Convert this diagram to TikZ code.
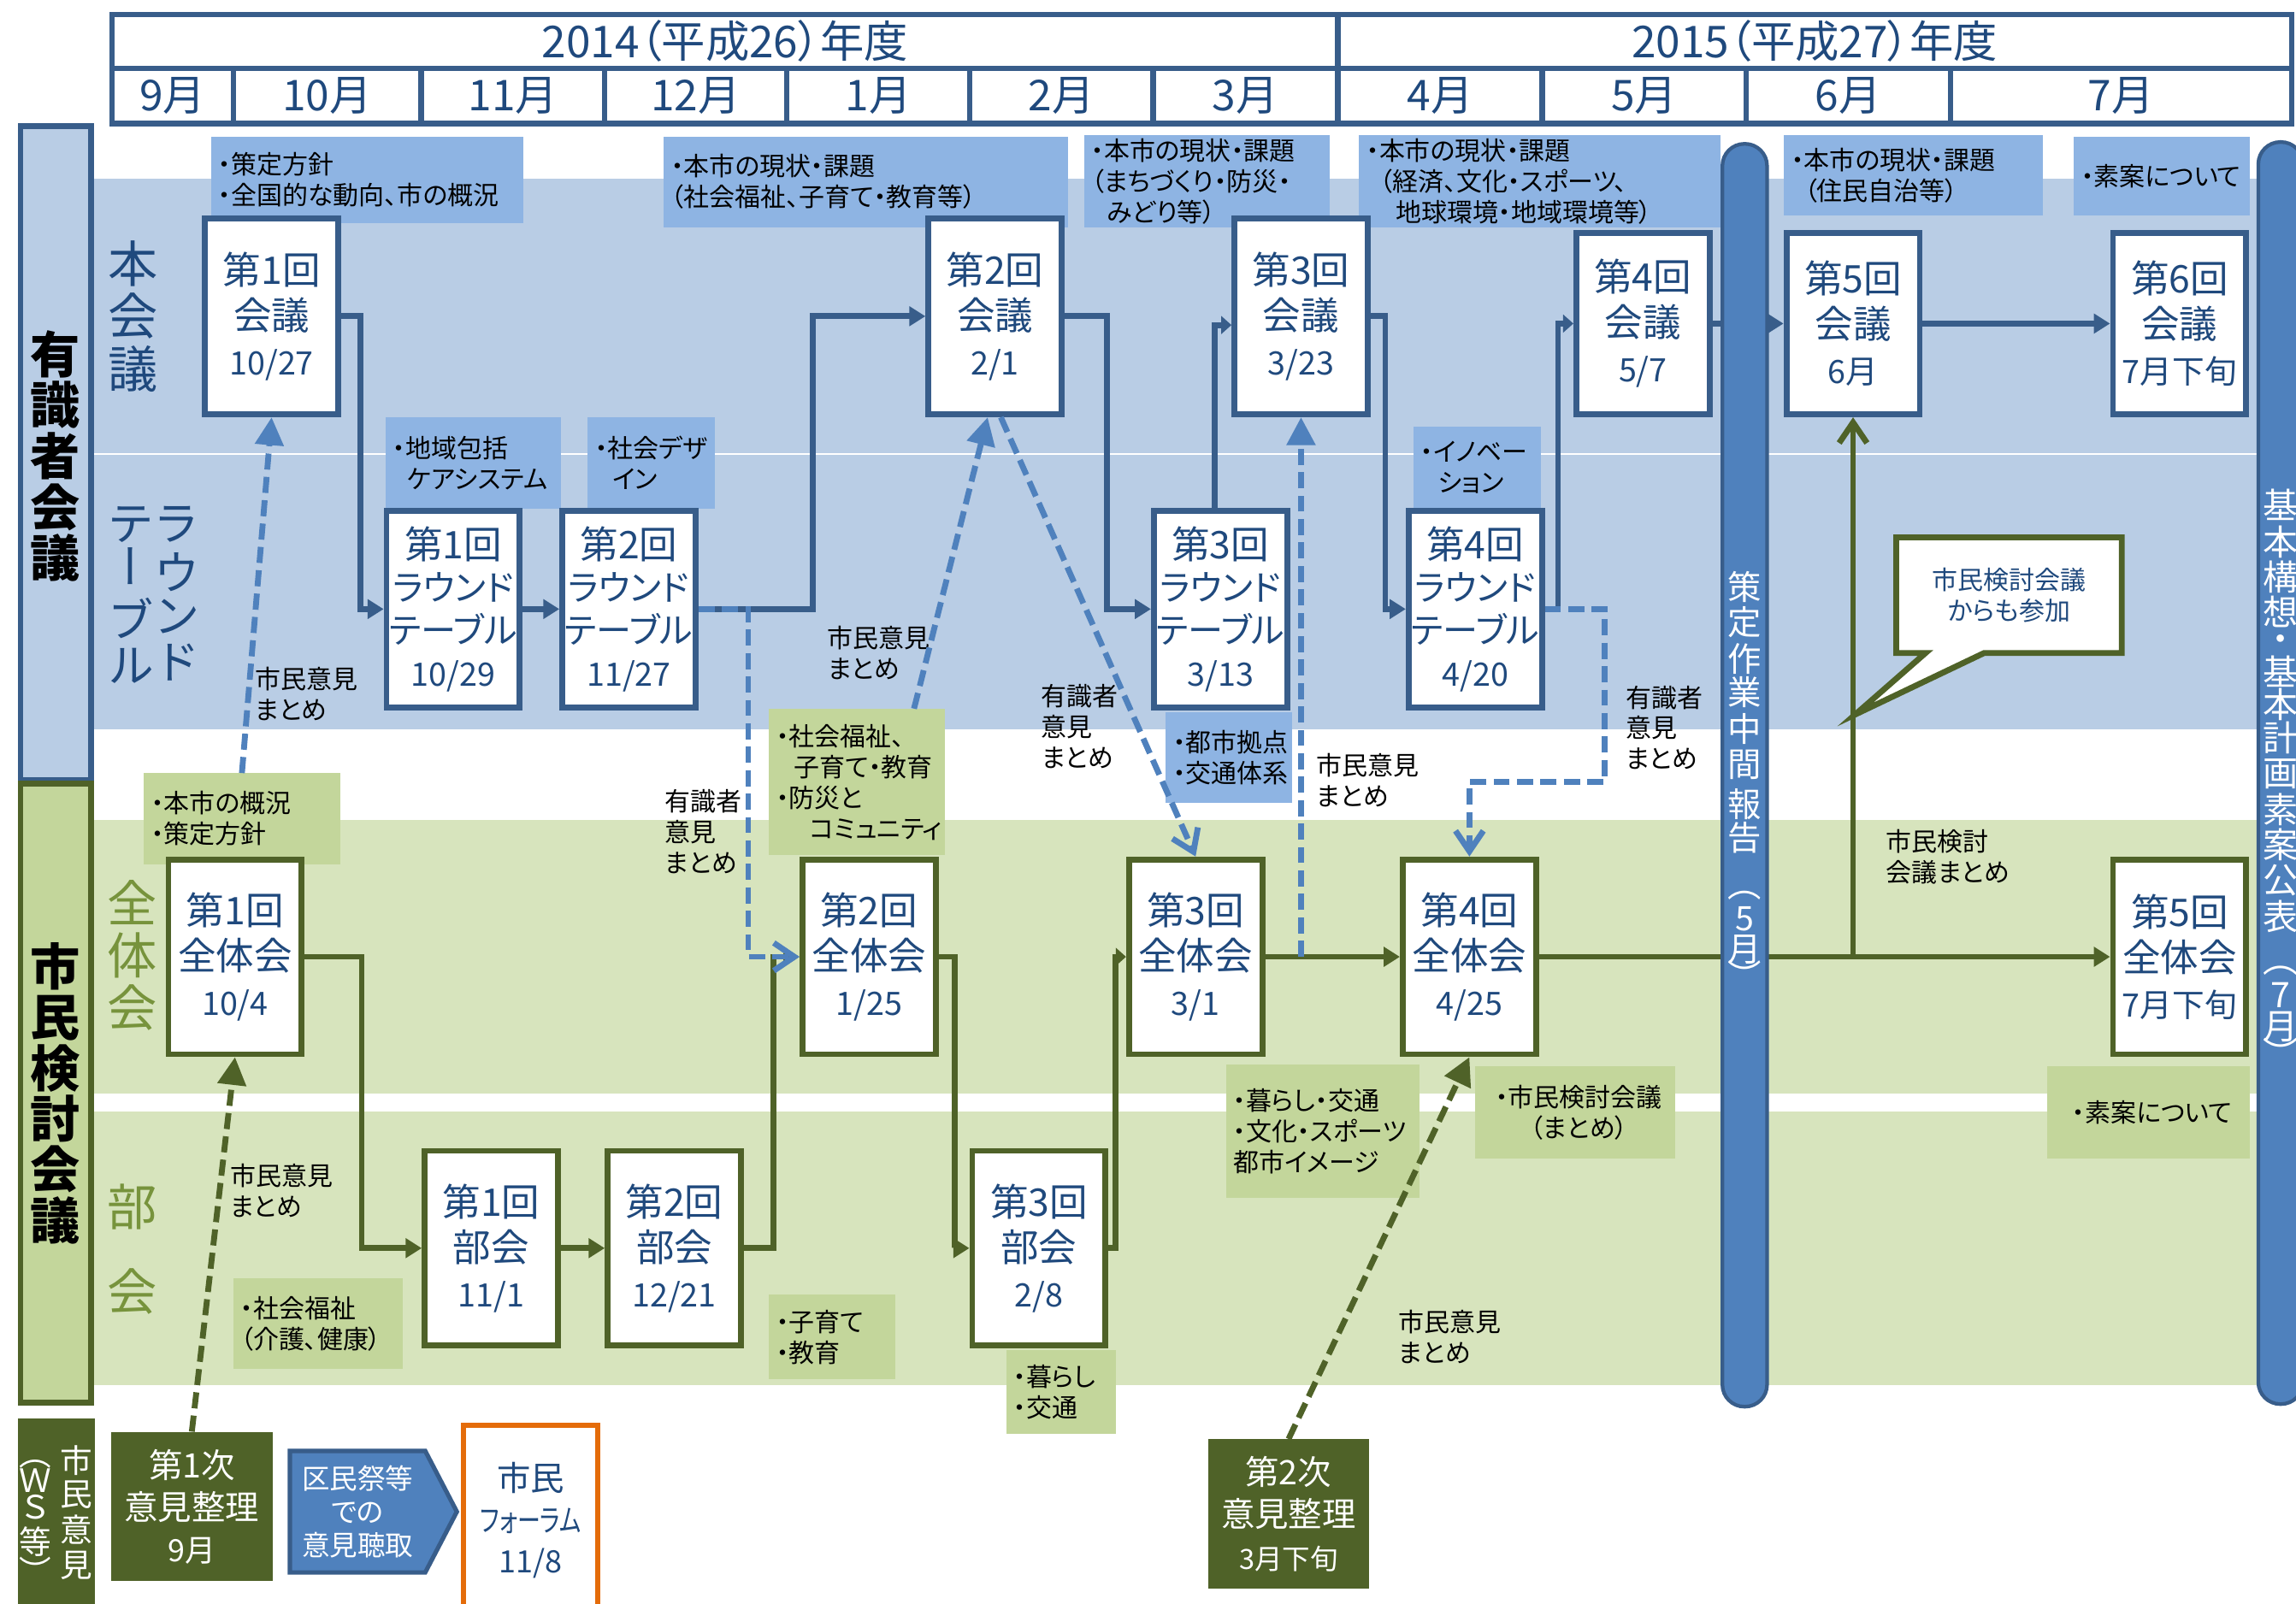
\documentclass[tikz,border=0pt]{standalone}
\usepackage{fontspec}
\usepackage{graphicx}
\newfontfamily\jp[RawFeature=+palt]{Noto Sans CJK JP}
\newfontfamily\jpv[RawFeature=+vert]{Noto Sans CJK JP}
\usepackage{xcolor}
\usetikzlibrary{positioning,arrows.meta,shapes.symbols,shapes.callouts}
\definecolor{hdblue}{RGB}{56,93,138}
\definecolor{txblue}{RGB}{31,73,125}
\definecolor{bandblue}{RGB}{185,205,229}
\definecolor{noteblue}{RGB}{142,180,227}
\definecolor{barblue}{RGB}{79,129,189}
\definecolor{olive}{RGB}{79,98,40}
\definecolor{bandgreen}{RGB}{215,228,189}
\definecolor{notegreen}{RGB}{195,214,155}
\definecolor{lblgreen}{RGB}{119,147,60}
\definecolor{forange}{RGB}{228,108,10}
\newcommand\mtgdate[1]{{\fontsize{22}{22}\selectfont #1}}
\newcommand\mtgno[1]{{\fontsize{26}{26}\selectfont #1}}
\pgfdeclarelayer{back}
\pgfdeclarelayer{front}
\pgfsetlayers{back,main,front}
\tikzset{
    yearcell/.style={draw=hdblue, line width=3.8pt, fill=white, minimum height=36.6pt, inner sep=0pt, text=txblue, font=\jp\fontsize{30}{30}\selectfont},
    monthcell/.style={yearcell, minimum height=37.8pt, font=\jp\fontsize{29}{29}\selectfont},
    sidecol/.style={line width=4pt, minimum width=48pt, inner sep=0pt},
    sidelabel/.style={inner sep=0pt, text height=29.9pt, text depth=4.1pt, font=\jpv\bfseries\fontsize{34}{34}\selectfont},
    rowlabel/.style={inner sep=0pt, text height=29.9pt, text depth=4.1pt, font=\jpv\fontsize{34}{34}\selectfont},
    rtlabel/.style={inner sep=0pt, text=txblue, text height=28.2pt, text depth=3.8pt, font=\jpv\fontsize{32}{32}\selectfont},
    oplabel/.style={inner sep=0pt, text=white, text height=19.4pt, text depth=2.6pt, font=\jpv\fontsize{22}{22}\selectfont},
    barlabel/.style={inner sep=0pt, text=white, text height=20.2pt, text depth=2.8pt, font=\jpv\fontsize{23}{23}\selectfont},
    finlabel/.style={inner sep=0pt, text=white, text height=21.1pt, text depth=2.9pt, font=\jpv\fontsize{24}{24}\selectfont},
    stagebar/.style={draw=hdblue, line width=2.5pt, fill=barblue, rounded corners=15pt, inner sep=0pt},
    meetbox/.style={draw, line width=4pt, fill=white, minimum width=91pt, minimum height=134pt, inner sep=0pt, align=center, text=txblue, font=\jp\fontsize{26}{31}\selectfont},
    expertbox/.style={meetbox, draw=hdblue},
    roundbox/.style={expertbox, font=\jp\fontsize{24}{29}\selectfont},
    citizenbox/.style={meetbox, draw=olive, minimum height=133pt},
    reviewbox/.style={fill=olive, minimum width=110pt, minimum height=102pt, inner sep=0pt, align=center, text=white, font=\jp\fontsize{23}{28.5}\selectfont},
    forumbox/.style={draw=forange, line width=3.5pt, fill=white, minimum width=91.5pt, minimum height=130pt, inner sep=0pt, align=center, text=txblue, font=\jp\fontsize{23}{28}\selectfont},
    hearbox/.style={signal, signal to=east, signal pointer angle=125, draw=hdblue, line width=3pt, fill=barblue, minimum width=114pt, minimum height=83pt, inner sep=0pt, align=center, text=white, font=\jp\fontsize{19}{23}\selectfont},
    bluenote/.style={anchor=north west, fill=noteblue, inner xsep=5pt, inner ysep=0pt, align=left, text=black, font=\jp\fontsize{17.5}{21}\selectfont},
    greennote/.style={bluenote, fill=notegreen},
    notelabel/.style={anchor=west, inner sep=0pt, align=left, text=black, font=\jp\fontsize{17.5}{21}\selectfont},
    calloutbox/.style={rectangle callout, draw=olive, line width=4pt, fill=white, minimum width=154pt, minimum height=79pt, callout pointer width=40pt, align=center, text=txblue, font=\jp\fontsize{17.5}{21}\selectfont},
    blueflow/.style={draw=hdblue, line width=4pt, -{Triangle[length=11pt,width=13pt]}},
    greenflow/.style={draw=olive, line width=4pt, -{Triangle[length=11pt,width=13pt]}},
    shorttip/.style={-{Triangle[length=7pt,width=12pt]}},
    bluedash/.style={draw=barblue, line width=4pt, dash pattern=on 11pt off 5pt},
    greendash/.style={draw=olive, line width=4pt, dash pattern=on 11pt off 5pt},
    bigtip/.style={-{Triangle[length=19pt,width=19pt]}},
    opentip/.style={-{Straight Barb[length=14pt,width=19pt]}}
}
\begin{document}
\begin{tikzpicture}[x=1pt, y=-1pt]
    \useasboundingbox (0,0) rectangle (1568,1095);
    \begin{pgfonlayer}{back}
        \fill[white] (0,0) rectangle (1568,1095);
        \fill[bandblue] (64,122) rectangle (1568,498);
        \draw[white, line width=1pt] (64,310) -- (1568,310);
        \fill[bandgreen] (64,560) rectangle (1568,946);
        \fill[white] (64,747) rectangle (1568,759);

        \node[bluenote, text width=203pt, minimum height=59pt] (nplan) at (144,93) {・策定方針\\・全国的な動向、市の概況};
        \node[bluenote, text width=266pt, minimum height=62pt] (nwelfare) at (453,93) {・本市の現状・課題\\（社会福祉、子育て・教育等）};
        \node[bluenote, text width=158pt, minimum height=63pt] (ntown) at (740,92) {・本市の現状・課題\\（まちづくり・防災・\\\hspace*{11pt}みどり等）};
        \node[bluenote, text width=237pt, minimum height=63pt] (neconomy) at (928,92) {・本市の現状・課題\\\hspace*{9pt}（経済、文化・スポーツ、\\\hspace*{20pt}地球環境・地域環境等）};
        \node[bluenote, text width=167pt, minimum height=55pt] (nself) at (1218,92) {・本市の現状・課題\\\hspace*{9pt}（住民自治等）};
        \node[bluenote, text width=110pt, minimum height=54pt] (ndraft) at (1416,93) {・素案について};
        \node[bluenote, text width=110pt, minimum height=62pt] (ncare) at (263,285) {・地域包括\\\hspace*{10pt}ケアシステム};
        \node[bluenote, text width=77pt, minimum height=62pt] (ndesign) at (401,285) {・社会デザ\\\hspace*{12pt}イン};
        \node[bluenote, text width=77pt, minimum height=56pt] (ninnov) at (965,291) {・イノベー\\\hspace*{12pt}ション};
        \node[bluenote, text width=76pt, minimum height=62pt] (ncity) at (796,486) {・都市拠点\\・交通体系};

        \node[greennote, text width=124pt, minimum height=62pt] (notek) at (98,528) {・本市の概況\\・策定方針};
        \node[greennote, text width=110pt, minimum height=100pt] (notel) at (525,484) {・社会福祉、\\\hspace*{12pt}子育て・教育\\・防災と\\\hspace*{23pt}コミュニティ};
        \node[greennote, text width=106pt, minimum height=62pt] (ngcare) at (159,873) {・社会福祉\\（介護、健康）};
        \node[greennote, text width=76pt, minimum height=58pt] (ngchild) at (525,884) {・子育て\\・教育};
        \node[greennote, text width=65pt, minimum height=57pt] (nglife) at (687,922) {・暮らし\\・交通};
        \node[greennote, text width=122pt, minimum height=91pt] (ngimage) at (837,727) {・暮らし・交通\\・文化・スポーツ\\都市イメージ};
        \node[greennote, text width=127pt, minimum height=63pt] (ngsum) at (1007,728) {\hspace*{9pt}・市民検討会議\\\hspace*{33pt}（まとめ）};
        \node[greennote, text width=128pt, minimum height=63pt] (ngdraft) at (1398,728) {\hspace*{12pt}・素案について};
    \end{pgfonlayer}

    \node[yearcell, minimum width=837.1pt] (y2014) at (495.15,28.3) {2014（平成26）年度};
    \node[yearcell, minimum width=651.3pt] (y2015) at (1239.35,28.3) {2015（平成27）年度};
    \foreach \xa/\xb/\mon [count=\i] in {76.6/159.3/9,159.3/287.6/10,287.6/413/11,413/537.4/12,537.4/662.3/1,662.3/787.4/2,787.4/913.7/3,913.7/1053.3/4,1053.3/1192.6/5,1192.6/1332/6,1332/1565/7}
        \node[monthcell, minimum width={(\xb-\xa)*1pt}] (mon\i) at ({(\xa+\xb)/2},65.5) {{\mon}月};

    \node[sidecol, draw=hdblue, fill=bandblue, minimum height=447pt] (colexpert) at (38,309.5) {};
    \node[sidecol, draw=olive, fill=notegreen, minimum height=423pt] (colcitizen) at (38,746.5) {};
    \node[fill=olive, minimum width=53pt, minimum height=127pt, inner sep=0pt] (colopinion) at (38.5,1032.5) {};
    \foreach \c [count=\i] in {有,識,者,会,議}
        \node[sidelabel] (explbl\i) at (38,{242+34.75*(\i-1)}) {\c};
    \foreach \c [count=\i] in {市,民,検,討,会,議}
        \node[sidelabel] (citlbl\i) at (38,{660+34.7*(\i-1)}) {\c};
    \foreach \c/\yy [count=\i] in {市/997.5,民/1020,意/1045,見/1069}
        \node[oplabel] (oplblA\i) at (52,\yy) {\c};
    \foreach \c/\yy [count=\i] in {（/992.6,Ｗ/1011,Ｓ/1029,等/1053,）/1073.4}
        \node[oplabel] (oplblB\i) at (24,\yy) {\c};

    \foreach \c [count=\i] in {本,会,議}
        \node[rowlabel, text=txblue] (honlbl\i) at (91,{180+36*(\i-1)}) {\c};
    \foreach \c/\yy [count=\i] in {ラ/357,ウ/391,ン/420,ド/452}
        \node[rtlabel] (rtlblA\i) at (121,\yy) {\c};
    \foreach \c/\yy [count=\i] in {テ/357,ー/387,ブ/423,ル/454}
        \node[rtlabel] (rtlblB\i) at (89,\yy) {\c};
    \foreach \c [count=\i] in {全,体,会}
        \node[rowlabel, text=lblgreen] (zenlbl\i) at (90,{617+35.5*(\i-1)}) {\c};
    \foreach \c/\yy [count=\i] in {部/824,会/882}
        \node[rowlabel, text=lblgreen] (bulbl\i) at (90,\yy) {\c};

    \node[expertbox] (M1) at (185.5,216) {第1回\\会議\\\mtgdate{10/27}};
    \node[expertbox] (M2) at (679.5,216) {第2回\\会議\\\mtgdate{2/1}};
    \node[expertbox] (M3) at (888.5,216) {第3回\\会議\\\mtgdate{3/23}};
    \node[expertbox, minimum height=124pt] (M4) at (1122,221) {第4回\\会議\\\mtgdate{5/7}};
    \node[expertbox, minimum height=124pt] (M5) at (1265.5,221) {第5回\\会議\\\mtgdate{6月}};
    \node[expertbox, minimum height=124pt] (M6) at (1488.5,221) {第6回\\会議\\\mtgdate{7月下旬}};

    \node[roundbox] (R1) at (309.5,416) {\mtgno{第1回}\\ラウンド\\テーブル\\\mtgdate{10/29}};
    \node[roundbox] (R2) at (429.5,416) {\mtgno{第2回}\\ラウンド\\テーブル\\\mtgdate{11/27}};
    \node[roundbox] (R3) at (833.5,416) {\mtgno{第3回}\\ラウンド\\テーブル\\\mtgdate{3/13}};
    \node[roundbox] (R4) at (1007.5,416) {\mtgno{第4回}\\ラウンド\\テーブル\\\mtgdate{4/20}};

    \node[citizenbox] (Z1) at (160.5,653.5) {第1回\\全体会\\\mtgdate{10/4}};
    \node[citizenbox] (Z2) at (593.5,653.5) {第2回\\全体会\\\mtgdate{1/25}};
    \node[citizenbox] (Z3) at (816.5,653.5) {第3回\\全体会\\\mtgdate{3/1}};
    \node[citizenbox] (Z4) at (1003.5,653.5) {第4回\\全体会\\\mtgdate{4/25}};
    \node[citizenbox] (Z5) at (1488.5,653.5) {第5回\\全体会\\\mtgdate{7月下旬}};

    \node[citizenbox] (B1) at (335.5,852.5) {第1回\\部会\\\mtgdate{11/1}};
    \node[citizenbox] (B2) at (460.5,852.5) {第2回\\部会\\\mtgdate{12/21}};
    \node[citizenbox] (B3) at (709.5,852.5) {第3回\\部会\\\mtgdate{2/8}};

    \node[reviewbox] (S1) at (131,1029) {第1次\\意見整理\\{\fontsize{21}{21}\selectfont 9月}};
    \node[hearbox, anchor=west] (H) at (196.5,1032.5) {区民祭等\\での\\意見聴取};
    \node[forumbox, anchor=north] (F) at (362.5,971.75) {市民\\\scalebox{0.75}[1]{\fontsize{21}{21}\selectfont フォーラム}\\{\fontsize{21}{21}\selectfont 11/8}};
    \node[reviewbox, font=\jp\fontsize{23}{29}\selectfont] (S2) at (880,1034) {第2次\\意見整理\\{\fontsize{19}{19}\selectfont 3月下旬}};

    \node[notelabel] (lcit1) at (174,474) {市民意見\\まとめ};
    \node[notelabel] (lcit2) at (565,446) {市民意見\\まとめ};
    \node[notelabel] (lexp1) at (454,568) {有識者\\意見\\まとめ};
    \node[notelabel] (lexp2) at (711,496) {有識者\\意見\\まとめ};
    \node[notelabel] (lcit3) at (899,533) {市民意見\\まとめ};
    \node[notelabel] (lexp3) at (1110,497) {有識者\\意見\\まとめ};
    \node[notelabel] (lcit4) at (157,813) {市民意見\\まとめ};
    \node[notelabel] (lcit5) at (955,913) {市民意見\\まとめ};
    \node[notelabel] (lsum) at (1288,585) {市民検討\\会議まとめ};

    \draw[blueflow] (M1.east) -- ++(13,0) |- (R1.west);
    \draw[blueflow] (R1) -- (R2);
    \draw[blueflow] (R2.east) -- ++(78,0) |- (M2.west);
    \draw[blueflow] (M2.east) -- ++(29,0) |- (R3.west);
    \draw[blueflow, shorttip] ([xshift=-4pt]R3.north) |- ([yshift=-6pt]M3.west);
    \draw[blueflow] (M3.east) -- ++(10,0) |- (R4.west);
    \draw[blueflow, shorttip] (R4.east) -- ++(9,0) |- (M4.west);
    \draw[blueflow] (M4) -- (M5);
    \draw[blueflow] (M5) -- (M6);

    \draw[greenflow] (Z1.east) -- ++(39,0) |- (B1.west);
    \draw[greenflow] (B1) -- (B2);
    \draw[greenflow] (B2.east) -- ++(20,0) |- (Z2.west);
    \draw[greenflow] (Z2.east) -- ++(11,0) |- (B3.west);
    \draw[greenflow, shorttip] (B3.east) -- ++(5,0) |- (Z3.west);
    \draw[greenflow] (Z3) -- (Z4);
    \draw[greenflow] (Z4) -- (Z5);
    \coordinate (join) at (M5.south |- Z4.east);
    \draw[draw=olive, line width=4pt, opentip] (join) -- (M5.south);

    \draw[bluedash, bigtip] (notek.north) -- (M1.south);
    \draw[bluedash, bigtip] ([xshift=39pt]notel.north) -- ([xshift=-5pt]M2.south);
    \draw[bluedash, opentip] ([xshift=4pt]M2.south) -- (Z3.north);
    \draw[bluedash, bigtip] (M3.south |- Z3.east) -- (M3.south);
    \draw[bluedash, opentip] (R4.east) -- ++(41,0) -- ++(0,118) -| (Z4.north);
    \draw[bluedash, opentip] (R2.east) -- ++(34,0) |- (Z2.west);
    \draw[greendash, bigtip] (S1.north) -- (Z1.south);
    \draw[greendash, bigtip] (S2.north) -- (Z4.south);

    \begin{pgfonlayer}{front}
        \node[stagebar, minimum width=30.5pt, minimum height=862.5pt] (midbar) at (1191.5,529.5) {};
        \foreach \c/\yy [count=\i] in {策/401,定/425,作/450,業/473,中/498,間/522,報/549,告/572,（/604,5/627,月/648,）/666.6}
            \node[barlabel] (midlbl\i) at (1191.5,\yy) {\c};
        \node[stagebar, minimum width=30.5pt, minimum height=862pt] (finalbar) at (1557.5,528) {};
        \foreach \c/\yy [count=\i] in {基/345,本/370,構/394,想/418,・/436,基/459,本/481,計/504,画/528,素/553,案/577,公/601,表/626,（/655,7/679,月/701,）/720}
            \node[finlabel] (finlbl\i) at (1557.5,\yy) {\c};
        \node[calloutbox, callout absolute pointer={(1267,488)}] (joincall) at (1372,406.5) {市民検討会議\\からも参加};
    \end{pgfonlayer}
\end{tikzpicture}
\end{document}
